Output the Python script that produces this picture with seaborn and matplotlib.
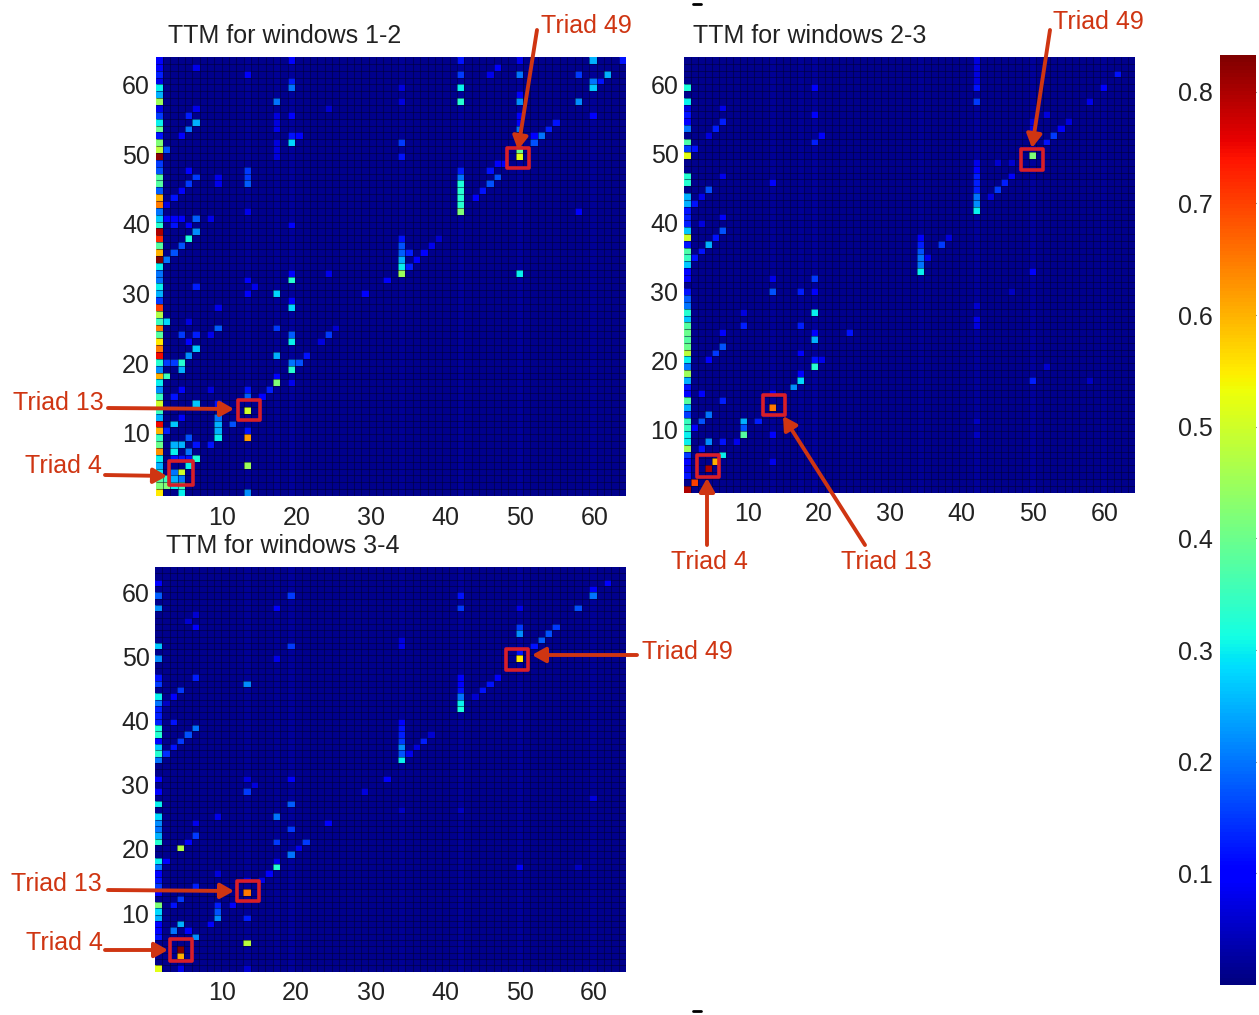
import numpy as np
import matplotlib
matplotlib.use("Agg")
import matplotlib.pyplot as plt
from matplotlib.patches import Rectangle, FancyArrowPatch
import seaborn as sns

sns.set_theme(style="white")
plt.rcParams['font.family'] = ['Liberation Sans', 'DejaVu Sans']

W, H = 1259, 1015
N = 64
BASE = 0.01
VMAX = 0.833
TICKS = [10, 20, 30, 40, 50, 60]
CB_TICKS = [0.1, 0.2, 0.3, 0.4, 0.5, 0.6, 0.7, 0.8]
TITLES = ["TTM for windows 1-2", "TTM for windows 2-3", "TTM for windows 3-4"]

# faintly brighter columns in the background
COL_TINT = {13: .018, 17: .017, 19: .02, 34: .018, 42: .022, 50: .022, 60: .017}

# first-column values: row -> value
P1_LEFT = {64:.1,63:.1,62:.13,61:.08,60:.3,59:.25,58:.45,57:.08,56:.15,55:.3,54:.4,53:.12,52:.42,51:.48,50:.82,
           49:.15,48:.17,47:.38,46:.38,45:.18,44:.6,43:.65,42:.2,41:.27,40:.33,39:.8,38:.72,37:.38,36:.6,35:.83,
           34:.3,33:.2,32:.2,31:.3,30:.25,29:.15,28:.7,27:.47,26:.35,25:.65,24:.38,23:.55,22:.65,21:.75,20:.33,
           19:.22,18:.6,17:.3,16:.22,15:.35,14:.5,13:.35,12:.25,11:.75,10:.6,9:.35,8:.4,7:.63,6:.3,5:.25,4:.3,
           3:.38,2:.42,1:.55}
P2_LEFT = {60:.32,58:.3,57:.07,56:.12,55:.1,54:.2,52:.37,51:.15,50:.52,47:.33,46:.33,44:.25,43:.25,42:.12,41:.13,
           40:.13,39:.27,38:.5,37:.12,36:.37,35:.35,34:.27,33:.1,32:.1,30:.12,29:.18,28:.2,27:.33,26:.27,25:.38,
           24:.4,23:.38,22:.4,21:.48,20:.3,19:.2,18:.45,17:.25,16:.12,15:.1,14:.38,13:.25,12:.15,11:.35,10:.35,
           9:.3,8:.3,7:.45,6:.15,5:.1,4:.08,3:.12,1:.8}
P3_LEFT = {62:.1,60:.18,58:.22,52:.27,50:.22,47:.12,46:.15,44:.3,43:.2,42:.13,41:.13,40:.13,39:.32,38:.33,37:.1,
           36:.27,35:.33,34:.2,31:.1,29:.1,27:.3,25:.28,24:.22,23:.2,22:.25,21:.33,18:.3,17:.2,16:.1,15:.12,
           14:.15,13:.1,11:.42,10:.28,9:.25,8:.1,7:.1,6:.12,1:.52}

# other cells: (column, row, value)
P1_CELLS = [
 (6,63,.08),(13,62,.1),(19,64,.1),(19,61,.13),(19,60,.2),(17,58,.2),(6,57,.08),(5,56,.13),(6,55,.25),(5,54,.2),
 (4,53,.1),(2,51,.17),(19,56,.1),(17,54,.08),(19,53,.12),(20,53,.1),(19,52,.28),(24,57,.06),(17,56,.07),(17,55,.07),
 (17,52,.07),(17,51,.07),(17,50,.07),(13,48,.15),(13,47,.15),(6,47,.15),(5,48,.1),(9,47,.08),(9,46,.08),(13,46,.18),
 (5,46,.15),(4,45,.1),(3,44,.12),(2,43,.08),(13,42,.08),(6,41,.18),(5,40,.1),(6,39,.22),(5,38,.32),(4,37,.17),
 (3,36,.17),(2,35,.2),(2,41,.1),(3,41,.1),(4,41,.1),(8,41,.08),(19,40,.1),(3,40,.12),(24,33,.08),(19,33,.1),
 (19,32,.33),(6,31,.13),(14,31,.08),(13,32,.1),(32,32,.1),(13,30,.1),(17,30,.28),(29,30,.1),(19,29,.1),(19,28,.28),
 (9,28,.08),(2,26,.28),(5,26,.07),(9,25,.18),(17,25,.15),(4,24,.15),(6,24,.13),(8,24,.08),(19,24,.18),(24,24,.15),
 (25,25,.06),(23,23,.07),(19,23,.3),(5,23,.1),(6,22,.27),(5,21,.22),(17,21,.25),(21,21,.12),(2,20,.15),(3,20,.15),
 (4,20,.33),(19,20,.2),(20,20,.17),(4,19,.25),(19,19,.33),(2,18,.35),(17,18,.1),(17,17,.42),(19,17,.08),(16,16,.13),
 (13,16,.12),(4,16,.1),(8,16,.07),(15,15,.1),(13,15,.18),(3,15,.12),(6,14,.27),(9,14,.12),(13,13,.5),(4,12,.1),
 (3,11,.27),(11,11,.17),(9,12,.2),(9,11,.25),(9,10,.25),(9,9,.3),(2,10,.13),(5,9,.17),(8,8,.12),(3,8,.25),(4,8,.25),
 (6,8,.12),(3,7,.3),(5,7,.2),(6,6,.32),(5,6,.12),(4,6,.12),(3,6,.12),(13,10,.12),(13,9,.62),(13,5,.45),(4,4,.5),
 (5,5,.3),(3,4,.2),(2,3,.35),(3,3,.25),(4,3,.2),(2,2,.42),(3,2,.3),(4,2,.35),(4,1,.3),(13,1,.22),
 (42,64,.12),(50,64,.08),(47,63,.1),(46,62,.08),(42,62,.15),(50,62,.2),(58,62,.15),(60,64,.25),(62,62,.25),(64,64,.12),
 (60,61,.2),(61,61,.12),(60,60,.27),(42,60,.3),(34,60,.07),(50,59,.1),(50,58,.22),(42,58,.33),(58,58,.22),(34,58,.07),
 (60,56,.1),(50,56,.1),(55,55,.12),(50,55,.1),(54,54,.13),(50,54,.2),(53,53,.2),(52,53,.1),(52,52,.17),(34,52,.15),
 (34,50,.12),(50,51,.4),(50,50,.52),(48,49,.1),(47,49,.1),(47,47,.17),(46,48,.12),(46,46,.17),(45,45,.12),(44,44,.1),
 (42,48,.13),(42,47,.2),(42,46,.32),(42,45,.33),(42,44,.33),(42,43,.33),(42,42,.42),(34,38,.12),(34,37,.17),(34,36,.18),
 (34,35,.25),(34,34,.3),(34,33,.45),(35,36,.13),(35,34,.13),(36,35,.1),(37,36,.1),(38,37,.08),(39,38,.06),(50,33,.3),
 (58,42,.1),
]
P2_CELLS = [
 (6,57,.08),(6,55,.13),(5,54,.13),(4,53,.07),(2,51,.12),(19,60,.1),(19,56,.1),(19,52,.13),(20,53,.1),(13,46,.1),
 (6,47,.08),(4,45,.17),(3,44,.08),(2,43,.12),(6,41,.1),(3,40,.07),(6,39,.17),(5,38,.12),(4,37,.25),(3,36,.12),(2,35,.12),
 (19,32,.15),(13,32,.08),(13,30,.17),(17,30,.13),(19,27,.3),(19,30,.1),(9,27,.07),(9,25,.13),(17,25,.13),(19,24,.1),
 (19,23,.25),(24,24,.12),(6,24,.1),(6,22,.17),(5,21,.15),(4,20,.1),(17,21,.1),(19,20,.12),(20,20,.08),(19,19,.33),
 (17,18,.1),(17,17,.28),(16,16,.22),(13,15,.1),(3,15,.1),(6,14,.13),(13,13,.65),(4,12,.2),(3,11,.17),(2,10,.1),
 (9,11,.25),(9,10,.17),(9,9,.38),(11,11,.13),(13,9,.1),(4,8,.22),(6,8,.12),(3,7,.12),(8,8,.08),(6,6,.3),(5,5,.6),
 (4,4,.8),(2,2,.7),(13,5,.08),
 (42,60,.12),(42,58,.15),(42,64,.07),(42,63,.07),(42,62,.07),(42,61,.07),(50,50,.42),(53,53,.15),(52,52,.12),(54,54,.1),
 (55,55,.07),(52,56,.07),(62,62,.12),(60,60,.1),(58,58,.08),(42,49,.08),(42,48,.1),(42,47,.13),(42,46,.13),(42,45,.13),
 (42,44,.2),(42,43,.22),(42,42,.3),(47,47,.1),(46,46,.13),(45,45,.15),(44,44,.07),(37,37,.15),(34,38,.1),(34,37,.13),
 (34,36,.17),(34,35,.2),(34,34,.2),(34,33,.3),(35,35,.08),(50,33,.1),(38,38,.07),(50,55,.07),(50,54,.08),(45,49,.06),
 (47,49,.06),(50,17,.13),(52,19,.06),(42,26,.08),(42,28,.06),(42,25,.07),(42,11,.05),(42,9,.05),(47,30,.05),(58,17,.05),
]
P3_CELLS = [
 (19,60,.15),(17,58,.1),(19,52,.15),(17,50,.08),(6,55,.1),(6,57,.06),(5,56,.06),(13,46,.22),(6,47,.13),(4,45,.15),
 (3,44,.1),(2,43,.05),(3,40,.12),(6,39,.2),(5,38,.17),(4,37,.15),(3,36,.12),(2,35,.14),
 (19,31,.1),(13,31,.07),(14,30,.07),(13,29,.15),(32,31,.1),(29,29,.07),(19,27,.18),(9,25,.08),(17,25,.2),(24,24,.1),
 (19,23,.15),(6,24,.08),(6,22,.15),(5,21,.1),(17,21,.15),(21,21,.15),(20,20,.08),(19,19,.2),(4,20,.47),(2,18,.1),
 (17,18,.08),(17,17,.33),(16,16,.1),(15,15,.08),(13,15,.08),(9,16,.07),(6,14,.13),(13,13,.65),(4,12,.15),(3,11,.12),
 (9,11,.13),(9,10,.17),(11,11,.1),(9,9,.22),(13,9,.13),(4,8,.25),(8,8,.1),(3,7,.2),(5,7,.1),(6,6,.22),(13,5,.48),
 (4,3,.6),(4,4,.83),(4,1,.08),(13,1,.06),
 (42,60,.12),(42,58,.15),(50,58,.08),(58,58,.17),(60,60,.2),(60,61,.1),(62,62,.1),(55,55,.15),(54,54,.17),(53,53,.18),
 (52,52,.12),(50,55,.15),(50,54,.22),(50,51,.12),(50,50,.55),(47,47,.1),(46,46,.12),(45,45,.12),(44,44,.06),(42,47,.1),
 (42,46,.1),(42,45,.12),(42,44,.2),(42,43,.3),(42,42,.32),(34,53,.07),(34,52,.08),(34,40,.1),(34,39,.12),(34,38,.13),
 (34,37,.15),(34,36,.22),(34,35,.17),(34,34,.3),(37,37,.13),(35,35,.08),(36,36,.07),(38,38,.06),(50,17,.1),(60,28,.07),
 (34,26,.05),(42,26,.05),(58,17,.05),
]
LEFTS = [P1_LEFT, P2_LEFT, P3_LEFT]
CELLS = [P1_CELLS, P2_CELLS, P3_CELLS]

RED = "#cf3512"
DARK = "#222222"


def build(left, cells):
    m = np.full((N, N), BASE)
    for c, v in COL_TINT.items():
        m[:, c - 1] = v
    for r, v in left.items():
        m[r - 1, 0] = v
    for c, r, v in cells:
        m[r - 1, c - 1] = v
    return m


def rect(l, t, r, b):
    return [l / W, 1 - b / H, (r - l) / W, (b - t) / H]


fig = plt.figure(figsize=(W / 100, H / 100), dpi=100, facecolor="white")
panels = [(155.5, 57, 626, 496), (684, 57, 1135, 492.5), (155, 567, 626, 971.5)]
title_x = [.027, .02, .023]
cax = fig.add_axes(rect(1220, 55, 1256, 985))
grid_lines = np.arange(1, N)

for i, box in enumerate(panels):
    ax = fig.add_axes(rect(*box))
    sns.heatmap(build(LEFTS[i], CELLS[i]), ax=ax, cmap="jet", vmin=0, vmax=VMAX,
                linewidths=0, square=False, rasterized=True,
                cbar=i == 0, cbar_ax=cax if i == 0 else None)
    ax.invert_yaxis()
    ax.vlines(grid_lines, 0, N, color="#000030", lw=.75, alpha=.5)
    ax.hlines(grid_lines, 0, N, color="#000030", lw=.75, alpha=.5)
    ax.set_xticks([9.05 + (t - 10) * 1.0125 for t in TICKS], labels=TICKS, rotation=0)
    ax.set_yticks([8.85 + (t - 10) * 1.015 for t in TICKS], labels=TICKS, rotation=0)
    ax.tick_params(length=0, labelsize=18, labelcolor=DARK, pad=4)
    ax.tick_params(axis="x", pad=7)
    ax.set_title(TITLES[i], loc="left", x=title_x[i], pad=10, fontsize=18, color=DARK)

cax.set_yticks(CB_TICKS, labels=[f"{t:.1f}" for t in CB_TICKS])
cax.yaxis.tick_left()
cax.tick_params(axis="y", length=5, width=.8, direction="in", color="#333333",
                labelsize=18, labelcolor=DARK, pad=5, left=True, right=True)
for sp in cax.spines.values():
    sp.set_visible(False)

# overlay in pixel coordinates for the hand-drawn callouts
ov = fig.add_axes([0, 0, 1, 1], facecolor="none", zorder=10)
ov.set_xlim(0, W)
ov.set_ylim(H, 0)
ov.axis("off")

boxes = [(249, 410, 22, 20), (181, 473, 24, 24), (518, 158, 22, 20),
         (1032, 159, 22, 21), (774, 405, 22, 20), (708, 466, 22, 22),
         (517, 659, 22, 21), (248, 891, 22, 20), (181, 950, 22, 22)]
for cx, cy, w, h in boxes:
    ov.add_patch(Rectangle((cx - w / 2, cy - h / 2), w, h, fill=False, ec="#d81e28", lw=2.6,
                           joinstyle="round"))

arrows = [((537, 30), (518, 150)), ((108, 408), (234, 409)), ((105, 475), (167, 476)),
          ((1050, 30), (1032, 148)), ((707, 545), (707, 478)), ((865, 545), (783, 416)),
          ((637, 655), (532, 655)), ((108, 890), (234, 891)), ((105, 950), (168, 950))]
for a, b in arrows:
    ov.add_patch(FancyArrowPatch(a, b, arrowstyle="-|>,head_length=8,head_width=4.5",
                                 color=RED, lw=2.8, shrinkA=0, shrinkB=0))

labels = [("Triad 49", 541, 26), ("Triad 13", 13, 403), ("Triad 4", 25, 466),
          ("Triad 49", 1053, 22), ("Triad 4", 671, 562), ("Triad 13", 841, 562),
          ("Triad 49", 642, 652), ("Triad 13", 11, 884), ("Triad 4", 26, 943)]
for s, x, y in labels:
    ov.text(x, y, s, color=RED, fontsize=18, ha="left", va="center")

ov.plot([693, 701], [4, 4], color="black", lw=2)
ov.plot([693, 701], [1011, 1011], color="black", lw=2)

fig.savefig("out.png", dpi=100, facecolor="white")
